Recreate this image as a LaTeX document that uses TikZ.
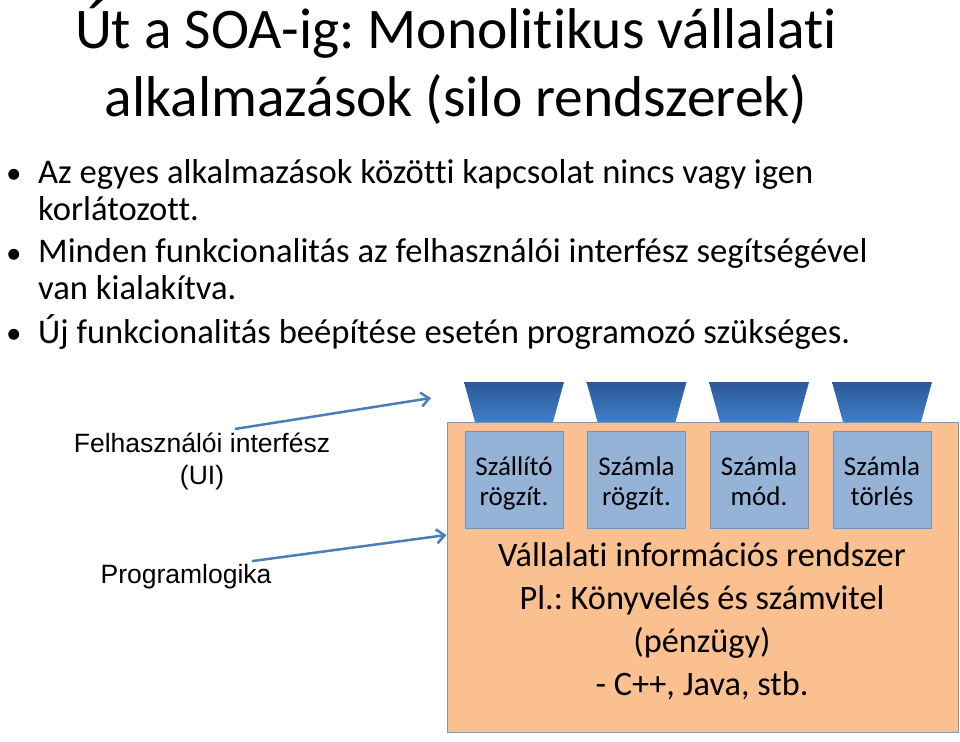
\documentclass[tikz,border=0pt]{standalone}
\usepackage{fontspec}
\setmainfont{Carlito}[Ligatures={NoCommon}]
\newfontfamily\arialfont{Liberation Sans}
\usetikzlibrary{calc, arrows.meta, positioning}
\usepackage{xcolor}
\definecolor{sysorange}{HTML}{FAC090}
\definecolor{sysedge}{HTML}{8497B0}
\definecolor{appblue}{HTML}{95B3D7}
\definecolor{appedge}{HTML}{6F93C2}
\definecolor{uitop}{HTML}{2C5896}
\definecolor{uibottom}{HTML}{3F7FCC}
\definecolor{arrowblue}{HTML}{4A7EBB}
\frenchspacing

\begin{document}
\begin{tikzpicture}[
    x=1pt, y=-1pt,
    slidetitle/.style={font=\fontsize{57.5}{68}\selectfont, align=center, inner sep=0pt},
    bullettext/.style={font=\fontsize{34.6}{37}\selectfont, align=left, anchor=base west, inner sep=0pt},
    bulletdot/.style={font=\fontsize{31}{37}\selectfont, anchor=base west, inner sep=0pt},
    sysbox/.style={rectangle, draw=sysedge, fill=sysorange, line width=1pt, minimum width=511pt, minimum height=310pt},
    sysnote/.style={font=\fontsize{34.3}{43}\selectfont, align=center},
    appbox/.style={rectangle, draw=appedge, fill=appblue, line width=1pt, minimum width=98pt, minimum height=97pt, align=center, text height=58pt, text depth=7pt, font=\fontsize{27}{29.5}\selectfont},
    sidelabel/.style={font=\arialfont\fontsize{26.5}{32}\selectfont, align=center},
    arrow/.style={-{Straight Barb[length=8pt, width=14pt]}, line width=2.5pt, draw=arrowblue}
]
    \useasboundingbox (0,0) rectangle (960,741);

    % Title
    \node[slidetitle, anchor=base] (title) at (456,117) {Út a SOA-ig: Monolitikus vállalati\\alkalmazások (silo rendszerek)};

    % Bullet points
    \foreach \y/\n in {183/1, 263/2, 343/3}
        \node[bulletdot] (dot\n) at (6,\y) {•};
    \node[bullettext] (point1) at (38,220) {Az egyes alkalmazások közötti kapcsolat nincs vagy igen\\korlátozott.};
    \node[bullettext] (point2) at (38,299) {Minden funkcionalitás az felhasználói interfész segítségével\\van kialakítva.};
    \node[bullettext] (point3) at (38,343) {Új funkcionalitás beépítése esetén programozó szükséges.};

    % Silo system
    \node[sysbox] (vir) at (702.5,577) {};
    \foreach \x/\i/\txt in {514/1/{Szállító\\rögzít.}, 636.5/2/{Számla\\rögzít.}, 759/3/{Számla\\mód.}, 882/4/{Számla\\törlés}} {
        \shade[top color=uitop, bottom color=uibottom] (\x-50,382) -- (\x+50,382) -- (\x+39,422) -- (\x-39,422) -- cycle;
        \node[appbox] (app\i) at (\x,479.5) {\txt};
    }
    \node[sysnote] (virnote) at (702,621) {Vállalati információs rendszer\\Pl.: Könyvelés és számvitel\\(pénzügy)\\- C++, Java, stb.};

    % Side labels
    \node[sidelabel] (uilabel) at (202,461) {Felhasználói interfész\\(UI)};
    \node[sidelabel] (logiclabel) at (186,577) {Programlogika};

    % Arrows
    \coordinate (uitip) at (431,398);
    \draw[arrow] ($(uilabel.north)+(33,0)$) -- (uitip);
    \draw[arrow] ($(logiclabel.north)+(66,0)$) -- ($(vir.west)+(0,-42)$);
\end{tikzpicture}
\end{document}
